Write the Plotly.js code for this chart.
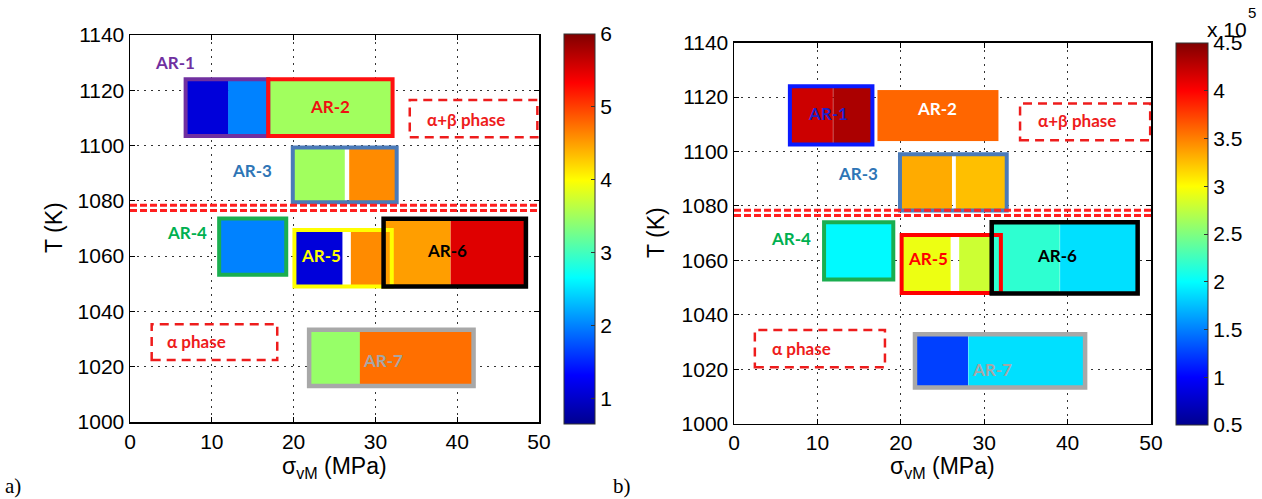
<!DOCTYPE html>
<html>
<head>
<meta charset="utf-8">
<script src="https://cdn.plot.ly/plotly-3.0.1.min.js"></script>
<style>html,body{margin:0;padding:0;background:#fff;}#chart{width:1262px;height:499px;}</style>
</head>
<body>
<div id="chart"></div>
<script>
// ---------- DATA ----------
const regionNames = ['AR-1','AR-2','AR-3','AR-4','AR-5','AR-6','AR-7'];

// Panel a) region bounds (stress MPa, temperature K)
const regA_x0 = [6.8, 16.9, 19.9, 10.9, 20.1, 31.0, 21.9];
const regA_x1 = [16.9, 32.1, 32.6, 19.1, 32.0, 48.4, 42.0];
const regA_y0 = [1103.5, 1103.5, 1079.5, 1053.3, 1049.0, 1049.0, 1013.0];
const regA_y1 = [1124.0, 1124.0, 1099.3, 1073.6, 1069.5, 1073.5, 1033.4];

// Panel a) coloured sub-cells
const segA_x0 = [6.8, 12.0, 16.9, 19.9, 26.8, 10.9, 20.1, 27.0, 31.0, 39.2, 21.9, 28.1];
const segA_x1 = [12.0, 16.9, 32.1, 26.3, 32.6, 19.1, 26.0, 32.0, 39.2, 48.4, 28.1, 42.0];
const segA_y0 = [1103.5, 1103.5, 1103.5, 1079.5, 1079.5, 1053.3, 1049.0, 1049.0, 1049.0, 1049.0, 1013.0, 1013.0];
const segA_y1 = [1124.0, 1124.0, 1124.0, 1099.3, 1099.3, 1073.6, 1069.5, 1069.5, 1073.5, 1073.5, 1033.4, 1033.4];
const segA_val = [1.1, 2.0, 3.5, 3.5, 4.6, 2.0, 1.1, 4.6, 4.5, 5.5, 3.45, 4.75];

// Panel b) region bounds
const regB_x0 = [6.7, 17.2, 19.9, 10.8, 20.1, 30.9, 21.7];
const regB_x1 = [16.6, 31.7, 32.7, 19.1, 32.0, 48.4, 42.1];
const regB_y0 = [1102.6, 1104.0, 1078.3, 1053.0, 1048.0, 1047.8, 1013.3];
const regB_y1 = [1124.0, 1122.6, 1099.0, 1074.0, 1069.3, 1074.0, 1032.9];

// Panel b) coloured sub-cells (x 10^5)
const segB_x0 = [6.7, 11.9, 17.2, 19.9, 26.6, 10.8, 20.1, 27.0, 30.9, 39.1, 21.7, 28.1];
const segB_x1 = [11.9, 16.6, 31.7, 26.1, 32.7, 19.1, 26.0, 32.0, 39.1, 48.4, 28.1, 42.1];
const segB_y0 = [1102.6, 1102.6, 1104.0, 1078.3, 1078.3, 1053.0, 1048.0, 1048.0, 1047.8, 1047.8, 1013.3, 1013.3];
const segB_y1 = [1124.0, 1124.0, 1122.6, 1099.0, 1099.0, 1074.0, 1069.3, 1069.3, 1074.0, 1074.0, 1032.9, 1032.9];
const segB_val = [4.2, 4.33, 3.6, 3.33, 3.25, 1.98, 2.93, 2.8, 2.18, 1.88, 1.25, 1.88];

// Region label positions
const labA_x = [5.5, 24.4, 14.9, 7.0, 23.3, 38.8, 30.9];
const labA_y = [1130.0, 1114.0, 1090.8, 1068.4, 1060.4, 1062.2, 1022.4];
const labB_x = [11.3, 24.3, 14.9, 6.8, 23.3, 38.7, 30.9];
const labB_y = [1113.8, 1115.9, 1091.9, 1068.2, 1060.6, 1061.7, 1020.0];

// Phase annotations
const phaseNames = ['α+β phase', 'α phase'];
const phaseA_box = {x0: [34.2, 2.65], x1: [49.8, 18.0], y0: [1103.0, 1022.4], y1: [1116.5, 1035.4]};
const phaseB_box = {x0: [34.3, 2.5], x1: [49.9, 18.1], y0: [1104.2, 1020.7], y1: [1117.7, 1034.4]};
const phaseA_lab = {x: [41.1, 8.1], y: [1109.6, 1029.0]};
const phaseB_lab = {x: [41.1, 8.1], y: [1111.3, 1027.5]};
const transusT = [1076.5, 1078.4];

const xTicks = [0, 10, 20, 30, 40, 50];
const yTicks = [1000, 1020, 1040, 1060, 1080, 1100, 1120, 1140];
const cbA_ticks = [1, 2, 3, 4, 5, 6];
const cbB_ticks = [0.5, 1, 1.5, 2, 2.5, 3, 3.5, 4, 4.5];

// ---------- STYLE ----------
const jet = [[0,'#00008F'],[0.125,'#0000FF'],[0.375,'#00FFFF'],[0.625,'#FFFF00'],[0.875,'#FF0000'],[1,'#800000']];
const borderA = ['#7030a0','#ff1010','#4a7ab8','#1aae50','#ffff00','#000000','#a8a8a8'];
const borderB = ['#0a1aff', null, '#4a7ab8','#1aae50','#ff0000','#000000','#a8a8a8'];
const borderW = [4, 4, 4, 4, 4, 4.5, 4.5];
const labColA = ['#7030a0','#ee1111','#2e75b6','#00b050','#ffff00','#000000','#a6a6a6'];
const labColB = ['#2020c8','#ffffff','#2e75b6','#00b050','#ff0000','#000000','#a6a6a6'];
const tickFont = {family: '"Liberation Sans", Arial, sans-serif', size: 21, color: '#000'};
const titleFont = {family: '"Liberation Sans", Arial, sans-serif', size: 23, color: '#000'};
const labFont = 'Lato, "Open Sans", sans-serif';
const phaseRed = '#ee1c1c';

const W = 1262, H = 499;
const px = v => v / W;
const py = v => (H - v) / H;

// ---------- TRACES ----------
const traces = [];
function addSegs(x0, x1, y0, y1, val, xa, ya, ca) {
  for (let i = 0; i < val.length; i++) {
    traces.push({
      type: 'heatmap', x: [x0[i], x1[i]], y: [y0[i], y1[i]], z: [[val[i]]],
      xaxis: xa, yaxis: ya, coloraxis: ca, hoverinfo: 'skip', xgap: 0, ygap: 0
    });
  }
}
addSegs(segA_x0, segA_x1, segA_y0, segA_y1, segA_val, 'x', 'y', 'coloraxis');
addSegs(segB_x0, segB_x1, segB_y0, segB_y1, segB_val, 'x2', 'y2', 'coloraxis2');

// ---------- SHAPES ----------
const shapes = [];
function addBorders(x0, x1, y0, y1, cols, xr, yr) {
  for (let i = 0; i < x0.length; i++) {
    if (!cols[i]) continue;
    shapes.push({type: 'rect', xref: xr, yref: yr, x0: x0[i], x1: x1[i], y0: y0[i], y1: y1[i],
      line: {color: cols[i], width: borderW[i]}, fillcolor: 'rgba(0,0,0,0)', layer: 'above'});
  }
}
addBorders(regA_x0, regA_x1, regA_y0, regA_y1, borderA, 'x', 'y');
addBorders(regB_x0, regB_x1, regB_y0, regB_y1, borderB, 'x2', 'y2');

function addPhase(box, xr, yr) {
  for (let i = 0; i < box.x0.length; i++) {
    shapes.push({type: 'rect', xref: xr, yref: yr, x0: box.x0[i], x1: box.x1[i], y0: box.y0[i], y1: box.y1[i],
      line: {color: phaseRed, width: 2.5, dash: '9px,6px'}, fillcolor: 'rgba(0,0,0,0)'});
  }
  transusT.forEach(t => shapes.push({type: 'line', xref: xr, yref: yr, x0: 0, x1: 50, y0: t, y1: t,
    line: {color: '#ff2020', width: 3, dash: '7px,3px'}}));
}
addPhase(phaseA_box, 'x', 'y');
addPhase(phaseB_box, 'x2', 'y2');

// ---------- ANNOTATIONS ----------
const ann = [];
function addLabels(xs, ys, cols, xr, yr) {
  for (let i = 0; i < regionNames.length; i++) {
    ann.push({xref: xr, yref: yr, x: xs[i], y: ys[i], text: '<b>' + regionNames[i] + '</b>', showarrow: false,
      font: {family: labFont, size: 17, color: cols[i]}});
  }
}
addLabels(labA_x, labA_y, labColA, 'x', 'y');
addLabels(labB_x, labB_y, labColB, 'x2', 'y2');
function addPhaseLabels(lab, xr, yr) {
  for (let i = 0; i < phaseNames.length; i++) {
    ann.push({xref: xr, yref: yr, x: lab.x[i], y: lab.y[i], text: '<b>' + phaseNames[i] + '</b>', showarrow: false,
      font: {family: labFont, size: 17, color: phaseRed}});
  }
}
addPhaseLabels(phaseA_lab, 'x', 'y');
addPhaseLabels(phaseB_lab, 'x2', 'y2');

// axis titles
[[334.5, 54, 228], [942.5, 656, 233]].forEach(([cx, tx, ty]) => {
  ann.push({xref: 'paper', yref: 'paper', x: px(cx), y: py(467), text: 'σ<sub>vM</sub> (MPa)', showarrow: false,
    font: titleFont, xanchor: 'center', yanchor: 'middle'});
  ann.push({xref: 'paper', yref: 'paper', x: px(tx), y: py(ty), text: 'T (K)', textangle: -90, showarrow: false,
    font: titleFont, xanchor: 'center', yanchor: 'middle'});
});
ann.push({xref: 'paper', yref: 'paper', x: px(13), y: py(486), text: 'a)', showarrow: false,
  xanchor: 'center', yanchor: 'middle',
  font: {family: '"Liberation Serif", "Times New Roman", serif', size: 21, color: '#000'}});
ann.push({xref: 'paper', yref: 'paper', x: px(622), y: py(486), text: 'b)', showarrow: false,
  xanchor: 'center', yanchor: 'middle',
  font: {family: '"Liberation Serif", "Times New Roman", serif', size: 21, color: '#000'}});
ann.push({xref: 'paper', yref: 'paper', x: px(1227), y: py(30), text: 'x 10', showarrow: false,
  font: tickFont, xanchor: 'center', yanchor: 'middle'});
ann.push({xref: 'paper', yref: 'paper', x: px(1252), y: py(12), text: '5', showarrow: false,
  font: {family: tickFont.family, size: 15, color: '#000'}, xanchor: 'center', yanchor: 'middle'});

// ---------- LAYOUT ----------
function xax(dom, anchor) {
  return {domain: dom, anchor: anchor, range: [0, 50], tickvals: xTicks, tickfont: tickFont,
    showgrid: true, gridcolor: '#333', gridwidth: 1, griddash: '2px,5px', zeroline: false,
    showline: true, linecolor: '#000', linewidth: 1.5, mirror: 'ticks', ticks: 'inside', ticklen: 5,
    tickcolor: '#000', fixedrange: true};
}
function yax(dom, anchor) {
  return {domain: dom, anchor: anchor, range: [1000, 1140], tickvals: yTicks, tickfont: tickFont,
    showgrid: true, gridcolor: '#333', gridwidth: 1, griddash: '2px,5px', zeroline: false,
    showline: true, linecolor: '#000', linewidth: 1.5, mirror: 'ticks', ticks: 'inside', ticklen: 5,
    tickcolor: '#000', fixedrange: true};
}
function cbar(x0, yb, yt, thick, ticks) {
  return {x: px(x0), xanchor: 'left', xref: 'paper', y: py(yb), yanchor: 'bottom', yref: 'paper',
    len: (yb - yt) / H, lenmode: 'fraction', thickness: thick, thicknessmode: 'pixels',
    xpad: 0, ypad: 0, outlinewidth: 1, outlinecolor: '#333', tickvals: ticks,
    tickfont: tickFont, ticks: 'inside', ticklen: 4, tickcolor: '#333', ticklabelposition: 'outside'};
}

const layout = {
  width: W, height: H, margin: {l: 0, r: 0, t: 0, b: 0},
  paper_bgcolor: '#fff', plot_bgcolor: '#fff', showlegend: false,
  xaxis: xax([px(130), px(539)], 'y'),
  yaxis: yax([py(422), py(35)], 'x'),
  xaxis2: xax([px(734), px(1151)], 'y2'),
  yaxis2: yax([py(423.7), py(42.7)], 'x2'),
  coloraxis: {cmin: 0.65, cmax: 6, colorscale: jet, colorbar: cbar(564, 424, 34, 31, cbA_ticks)},
  coloraxis2: {cmin: 0.5, cmax: 4.5, colorscale: jet, colorbar: cbar(1176, 425, 42.7, 32, cbB_ticks)},
  shapes: shapes, annotations: ann
};

Plotly.newPlot('chart', traces, layout, {staticPlot: true, displayModeBar: false});
</script>
</body>
</html>
